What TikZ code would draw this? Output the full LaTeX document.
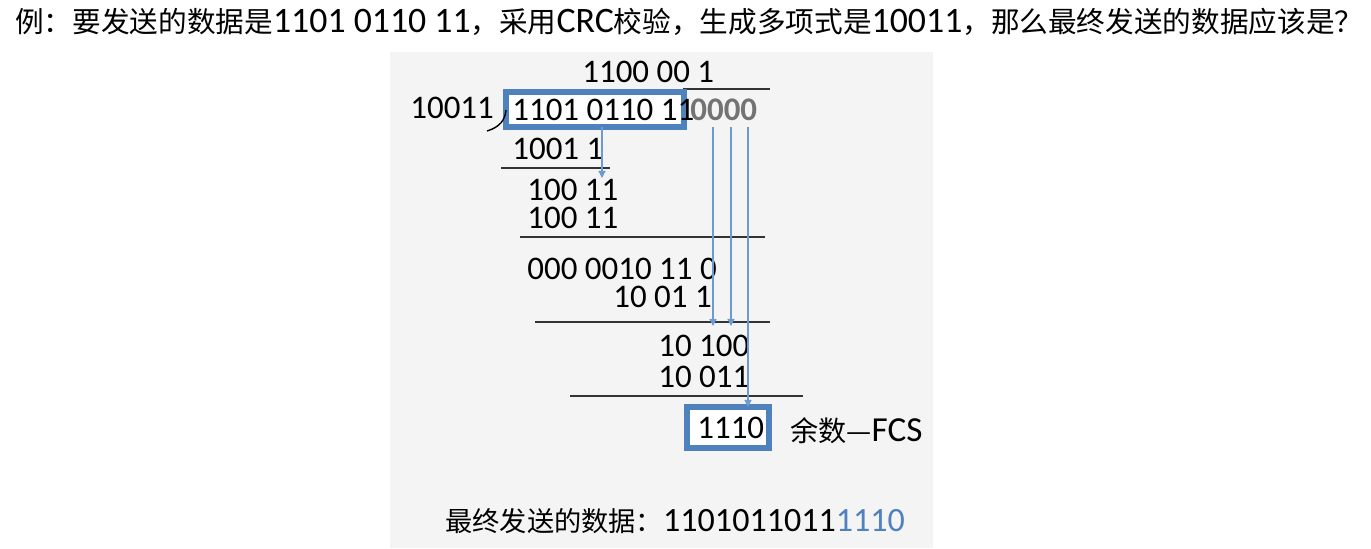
\documentclass[tikz,border=0pt]{standalone}
\usepackage{fontspec}
\setmainfont{Carlito}[Scale=1.25]
\newfontfamily\cjk{Noto Sans CJK SC}
\usetikzlibrary{arrows.meta}
\definecolor{crcblue}{HTML}{4F81BD}
\definecolor{arrblue}{HTML}{6D9BD1}
\definecolor{panel}{HTML}{F4F4F4}
\tikzset{
  num/.style={anchor=west, inner sep=0pt, font=\fontsize{15}{17}\selectfont},
  rule/.style={draw=black!80, line width=0.8pt},
  carry/.style={draw=arrblue, line width=0.7pt, -{Triangle[length=4pt,width=4pt]}},
  markbox/.style={draw=crcblue, line width=3pt, fill=white}
}
\begin{document}
\begin{tikzpicture}[x=0.02cm, y=-0.02cm]
  \useasboundingbox (0,0) rectangle (1371,548);
  \fill[panel] (390,52) rectangle (933,548);
  % question
  \node[anchor=west, inner sep=0pt, font=\fontsize{16.3}{18}\selectfont] (ask) at (15,22)
    {{\cjk 例：要发送的数据是}1101 0110 11{\cjk ，采用}CRC{\cjk 校验，生成多项式是}10011{\cjk ，那么最终发送的数据应该是？}};
  % divisor, dividend
  \node[num] (quot) at (582,72) {1100 00 1};
  \draw[rule] (683,89) -- (770,89);
  \node[num] (div) at (410,108) {10011};
  \draw[markbox] (506,92) rectangle (684,127);
  \node[num] (data) at (512,110) {1101 0110 11};
  \node[num, text=black!55, font=\fontsize{15}{17}\selectfont\bfseries] (pad) at (690,110) {0000};
  \draw[black, line width=0.8pt] (487,131) .. controls (500,127) and (505,120) .. (506,110);
  % steps
  \node[num] (s1) at (512,149) {1001 1};
  \draw[rule] (501,168) -- (610,168);
  \node[num] (r1) at (527,190) {100 11};
  \node[num] (s2) at (527,218) {100 11};
  \draw[rule] (520,237) -- (765,237);
  \node[num] (r2) at (527,269) {000 0010 11\ 0};
  \node[num] (s3) at (613,297) {10 01 1};
  \draw[rule] (535,322) -- (770,322);
  \node[num] (r3) at (658,346) {10 100};
  \node[num] (s4) at (658,377) {10 011};
  \draw[rule] (570,396) -- (803,396);
  % remainder
  \draw[markbox] (687,407) rectangle (769,448);
  \node[num] (fcs) at (697,428) {1110};
  \node[anchor=west, inner sep=0pt, font=\fontsize{16}{18}\selectfont] (note) at (790,431) {{\cjk 余数—}FCS};
  % carried bits
  \coordinate (c0) at (602,127);
  \coordinate (c1) at (713,127);
  \coordinate (c2) at (731,127);
  \coordinate (c3) at (748,127);
  \draw[carry] (c0) -- (602,178);
  \draw[carry] (c1) -- (713,326);
  \draw[carry] (c2) -- (731,326);
  \draw[carry] (c3) -- (748,407);
  % answer
  \node[anchor=west, inner sep=0pt, font=\fontsize{15.5}{17}\selectfont] (ans) at (445,521)
    {{\cjk 最终发送的数据：}1101011011\textcolor{crcblue}{1110}};
\end{tikzpicture}
\end{document}
